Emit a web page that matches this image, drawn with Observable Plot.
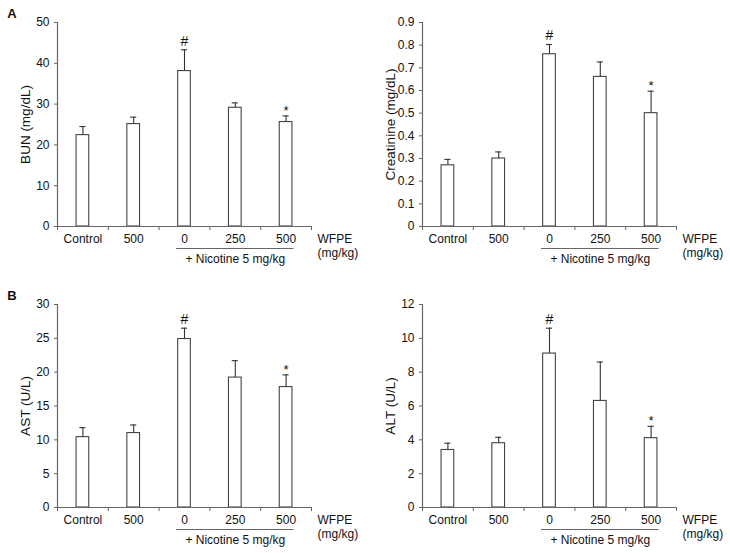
<!DOCTYPE html>
<html>
<head>
<meta charset="utf-8">
<script src="https://cdn.jsdelivr.net/npm/d3@7"></script>
<script src="https://cdn.jsdelivr.net/npm/@observablehq/plot@0.6"></script>
<style>
  html, body { margin: 0; padding: 0; background: #fff; }
  #wrap { position: relative; width: 730px; height: 553px; overflow: hidden; }
  .panel { position: absolute; }
</style>
</head>
<body>
<div id="wrap"></div>
<script>
// ---- data ----
const groups = ["Control", "500", "0", "250", "500"];
const nicotine = [false, false, true, true, true];
const sig = ["", "", "#", "", "*"];

const bunMean = [22.4, 25.1, 38.1, 29.1, 25.6];
const bunSD   = [2.1, 1.7, 5.2, 1.2, 1.5];

const creMean = [0.27, 0.30, 0.76, 0.66, 0.50];
const creSD   = [0.026, 0.029, 0.043, 0.066, 0.097];

const astMean = [10.4, 11.0, 24.9, 19.2, 17.8];
const astSD   = [1.4, 1.2, 1.6, 2.5, 1.8];

const altMean = [3.4, 3.8, 9.1, 6.3, 4.1];
const altSD   = [0.4, 0.35, 1.5, 2.3, 0.7];

const panels = [
  {id: "A", label: "BUN (mg/dL)", mean: bunMean, sd: bunSD, max: 50, step: 10, left: 0, top: 0, height: 280, mt: 22, mb: 54},
  {id: "",  label: "Creatinine (mg/dL)", mean: creMean, sd: creSD, max: 0.9, step: 0.1, left: 365, top: 0, height: 280, mt: 22, mb: 54},
  {id: "B", label: "AST (U/L)", mean: astMean, sd: astSD, max: 30, step: 5, left: 0, top: 280, height: 273, mt: 24, mb: 46},
  {id: "",  label: "ALT (U/L)", mean: altMean, sd: altSD, max: 12, step: 2, left: 365, top: 280, height: 273, mt: 24, mb: 46}
];

const axisColor = "#666";
const barColor = "#444";
const textColor = "#111";
const font = "'Liberation Sans', Arial, Helvetica, sans-serif";
const hw = 0.125;   // half bar width (in group units)
const cw = 0.06;    // half cap width

function panel(p) {
  const rows = groups.map((g, i) => ({i, g, v: p.mean[i], e: p.sd[i], s: sig[i], nic: nicotine[i]}));
  const nicIdx = rows.filter(d => d.nic).map(d => d.i);
  const nicStart = d3.min(nicIdx) + 0.5, nicEnd = d3.max(nicIdx) + 0.5;
  const ticks = d3.range(0, Math.round(p.max / p.step) + 1).map(k => +(k * p.step).toFixed(2));
  const c = d => d.i + 0.5;

  const marks = [
    Plot.rectY(rows, {x1: d => c(d) - hw, x2: d => c(d) + hw, y: "v", fill: "white", stroke: barColor, strokeWidth: 1.1}),
    Plot.ruleX(rows, {x: c, y1: "v", y2: d => d.v + d.e, stroke: "#333", strokeWidth: 1.1}),
    Plot.ruleY(rows, {y: d => d.v + d.e, x1: d => c(d) - cw, x2: d => c(d) + cw, stroke: "#333", strokeWidth: 1.1}),
    Plot.text(rows.filter(d => d.s === "#"), {x: c, y: d => d.v + d.e, text: "s", lineAnchor: "bottom", dy: -4, fontSize: 14, fill: textColor}),
    Plot.text(rows.filter(d => d.s === "*"), {x: c, y: d => d.v + d.e, text: "s", lineAnchor: "bottom", dy: -1, fontSize: 13, fill: textColor}),
    // axes
    Plot.ruleX([0], {y1: 0, y2: p.max, stroke: axisColor, strokeWidth: 1.2}),
    Plot.ruleY([0], {x1: 0, x2: groups.length, stroke: axisColor, strokeWidth: 1.2}),
    Plot.axisY({ticks, tickSize: 3, tickPadding: 5, label: null, tickFormat: d => String(d), stroke: axisColor, fill: textColor, fontSize: 12}),
    Plot.axisX({ticks: d3.range(groups.length + 1), tickSize: 4, tickFormat: () => "", label: null, stroke: axisColor}),
    // group labels
    Plot.text(rows, {x: c, y: 0, text: "g", dy: 13, lineAnchor: "middle", fontSize: 12, fill: textColor}),
    // nicotine underline + label
    Plot.ruleY([0], {x1: nicStart - 0.157, x2: nicEnd + 0.157, dy: 22, stroke: axisColor, strokeWidth: 1.2}),
    Plot.text(["+ Nicotine 5 mg/kg"], {x: (nicStart + nicEnd) / 2, y: 0, dy: 33, lineAnchor: "middle", fontSize: 12, fill: textColor}),
    // WFPE unit label
    Plot.text(["WFPE"], {frameAnchor: "bottom-right", dx: 6, dy: 13, textAnchor: "start", lineAnchor: "middle", fontSize: 12, fill: textColor}),
    Plot.text(["(mg/kg)"], {frameAnchor: "bottom-right", dx: 6, dy: 27, textAnchor: "start", lineAnchor: "middle", fontSize: 12, fill: textColor}),
    // y title
    Plot.text([p.label], {frameAnchor: "left", dx: -32, rotate: -90, textAnchor: "middle", lineAnchor: "middle", fontSize: 13.5, fill: textColor})
  ];
  if (p.id) {
    marks.push(Plot.text([p.id], {frameAnchor: "top-left", dx: -45.5, dy: -9, textAnchor: "middle", lineAnchor: "middle", fontSize: 13, fontWeight: "bold", fill: textColor}));
  }

  return Plot.plot({
    width: 365,
    height: p.height,
    marginTop: p.mt,
    marginBottom: p.mb,
    marginLeft: 57,
    marginRight: 54,
    style: {fontFamily: font, fontSize: "12px", background: "white", color: textColor, overflow: "visible"},
    x: {type: "linear", domain: [0, groups.length], axis: null},
    y: {domain: [0, p.max], axis: null},
    marks
  });
}

const wrap = document.getElementById("wrap");
for (const p of panels) {
  const div = document.createElement("div");
  div.className = "panel";
  div.style.left = p.left + "px";
  div.style.top = p.top + "px";
  div.appendChild(panel(p));
  wrap.appendChild(div);
}
</script>
</body>
</html>
